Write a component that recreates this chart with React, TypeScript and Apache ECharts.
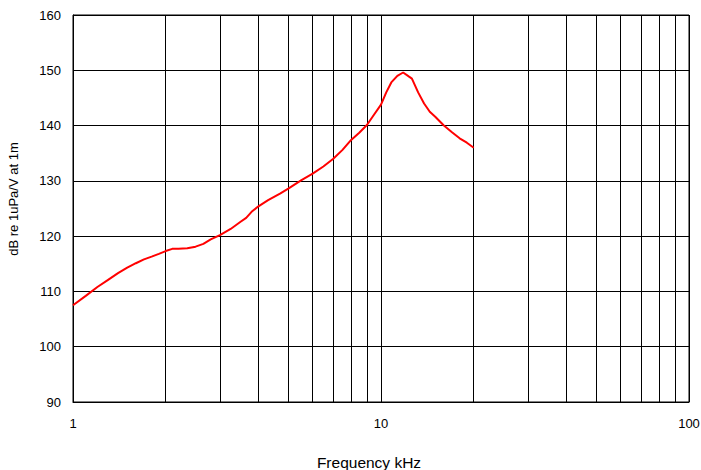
import React, { useEffect, useRef } from "react";
import * as echarts from "echarts";

const freqKHz: number[] = [1.0, 1.1, 1.2, 1.3, 1.4, 1.5, 1.6, 1.7, 1.8, 1.9, 2.0, 2.1, 2.2, 2.35, 2.5, 2.65, 2.8, 3.0, 3.25, 3.5, 3.65, 3.8, 4.0, 4.3, 4.7, 5.0, 5.5, 6.0, 6.5, 7.0, 7.5, 8.0, 8.5, 9.0, 9.5, 10.0, 10.4, 10.8, 11.3, 11.8, 12.3, 12.6, 13.2, 13.8, 14.4, 15.0, 16.0, 17.0, 18.0, 19.0, 20.0];
const levelDb: number[] = [107.5, 109.2, 110.8, 112.1, 113.3, 114.3, 115.1, 115.8, 116.3, 116.8, 117.3, 117.7, 117.7, 117.8, 118.1, 118.6, 119.4, 120.2, 121.3, 122.6, 123.3, 124.4, 125.4, 126.5, 127.7, 128.6, 130.1, 131.3, 132.6, 134.0, 135.6, 137.4, 138.7, 140.1, 142.0, 143.8, 146.0, 147.8, 149.0, 149.6, 148.9, 148.5, 146.0, 144.0, 142.5, 141.6, 140.0, 138.8, 137.7, 136.9, 136.0];
const minorGridFreqs: number[] = [2, 3, 4, 5, 6, 7, 8, 9, 20, 30, 40, 50, 60, 70, 80, 90];
const xName = "Frequency kHz";
const yName = "dB re 1uPa/V at 1m";

const FONT = "'Liberation Sans', Arial, sans-serif";

export default function App() {
  const ref = useRef<HTMLDivElement>(null);
  useEffect(() => {
    if (!ref.current) return;
    const chart = echarts.init(ref.current, null, { renderer: "svg" });
    chart.setOption({
      animation: false,
      backgroundColor: "#fff",
      textStyle: { fontFamily: FONT },
      grid: {
        left: 73,
        right: 12,
        top: 15,
        bottom: 68,
        outerBoundsMode: "none",
        containLabel: false,
        show: true,
        borderColor: "#000",
        borderWidth: 1,
      },
      xAxis: {
        type: "log",
        logBase: 10,
        min: 1,
        max: 100,
        name: xName,
        nameLocation: "middle",
        nameGap: 52,
        nameTextStyle: { fontSize: 15.5, color: "#000", fontFamily: FONT, padding: [0, 24, 0, 0] },
        axisLine: { show: true, lineStyle: { color: "#000", width: 1 } },
        axisTick: { show: false },
        axisLabel: { fontSize: 13, color: "#000", fontFamily: FONT, margin: 15 },
        splitLine: { show: true, lineStyle: { color: "#000", width: 1 } },
      },
      yAxis: {
        type: "value",
        min: 90,
        max: 160,
        interval: 10,
        name: yName,
        nameLocation: "middle",
        nameGap: 53,
        nameRotate: 90,
        nameTextStyle: { fontSize: 13, color: "#000", fontFamily: FONT, padding: [0, 0, 0, 19] },
        axisLine: { show: true, lineStyle: { color: "#000", width: 1 } },
        axisTick: { show: false },
        axisLabel: { fontSize: 13, color: "#000", fontFamily: FONT, margin: 12 },
        splitLine: { show: true, lineStyle: { color: "#000", width: 1 } },
      },
      series: [
        {
          type: "line",
          data: freqKHz.map((f, i) => [f, levelDb[i]]),
          showSymbol: false,
          smooth: false,
          lineStyle: { color: "#ff0000", width: 2 },
          itemStyle: { color: "#ff0000" },
          silent: true,
          z: 5,
          markLine: {
            silent: true,
            symbol: ["none", "none"],
            label: { show: false },
            animation: false,
            lineStyle: { color: "#000", type: "solid", width: 1 },
            emphasis: { disabled: true },
            data: minorGridFreqs.map((f) => ({ xAxis: f })),
          },
        },
      ],
    });
    return () => chart.dispose();
  }, []);
  return (
    <div
      ref={ref}
      style={{ position: "fixed", left: 0, top: 0, width: 701, height: 470, background: "#fff" }}
    />
  );
}
